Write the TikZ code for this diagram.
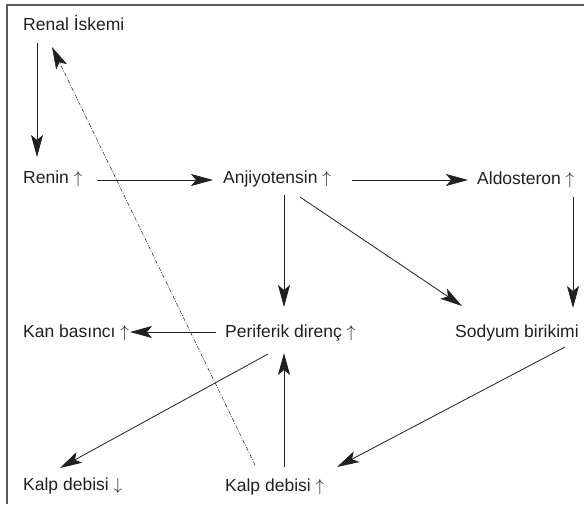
\documentclass[tikz,border=0pt]{standalone}
\usepackage{fontspec}
\setmainfont{Liberation Sans}
\usepackage{tikz}
\usetikzlibrary{arrows.meta, calc}
\definecolor{ink}{RGB}{35,31,32}
\definecolor{framegray}{RGB}{90,90,90}
\newcommand{\yuk}{~$\uparrow$}
\newcommand{\dus}{~$\downarrow$}
\tikzset{
  lbl/.style={
    anchor=base west, inner sep=0pt, text=ink,
    font=\fontsize{17.5}{20}\selectfont
  },
  arr/.style={draw=ink, line width=0.8pt,
    -{Stealth[length=22pt, width=12pt, inset=5pt]}},
  fbk/.style={arr, line width=0.5pt,
    dash pattern=on 4pt off 1.5pt on 1pt off 1.5pt},
}

\begin{document}
\begin{tikzpicture}[x=1pt, y=-1pt]
  \useasboundingbox (0,0) rectangle (584,504);
  \draw[framegray, line width=1.3pt] (7,504) -- (7,5) -- (584,5);

  \node[lbl] (renal) at (23,30) {Renal İskemi};
  \node[lbl] (renin) at (23,183) {Renin\yuk};
  \node[lbl] (anji) at (223,183) {Anjiyotensin\yuk};
  \node[lbl] (aldo) at (477,184) {Aldosteron\yuk};
  \node[lbl] (kan) at (23,337) {Kan basıncı\yuk};
  \node[lbl] (perif) at (225,337) {Periferik direnç\yuk};
  \node[lbl] (sodyum) at (455,337) {Sodyum birikimi};
  \node[lbl] (kalpd) at (23,490) {Kalp debisi\dus};
  \node[lbl] (kalpu) at (225,491) {Kalp debisi\yuk};

  \draw[arr] ($(renal.base west)+(14,13)$) -- ($(renin.base west)+(14,-26)$);
  \draw[arr] ($(renin.base west)+(74,-3)$) -- ($(anji.base west)+(-10,-3)$);
  \draw[arr] ($(anji.base west)+(129,-3)$) -- ($(aldo.base west)+(-9,-4)$);
  \draw[arr] ($(anji.base west)+(61,12)$) -- ($(perif.base west)+(59,-30)$);
  \draw[arr] ($(anji.base west)+(77,14)$) -- ($(sodyum.base west)+(7,-31)$);
  \draw[arr] ($(aldo.base west)+(96,13)$) -- ($(sodyum.base west)+(118,-29)$);
  \draw[arr] ($(perif.base west)+(-9,-5)$) -- ($(kan.base west)+(107,-5)$);
  \draw[arr] ($(perif.base west)+(43,17)$) -- ($(kalpd.base west)+(37,-22)$);
  \draw[arr] ($(kalpu.base west)+(59,-24)$) -- ($(perif.base west)+(59,16)$);
  \draw[arr] ($(sodyum.base west)+(110,10)$) -- ($(kalpu.base west)+(112,-24)$);
  % geri besleme
  \draw[fbk] ($(kalpu.base west)+(30,-26)$) -- ($(renal.base west)+(29,17)$);
\end{tikzpicture}
\end{document}
